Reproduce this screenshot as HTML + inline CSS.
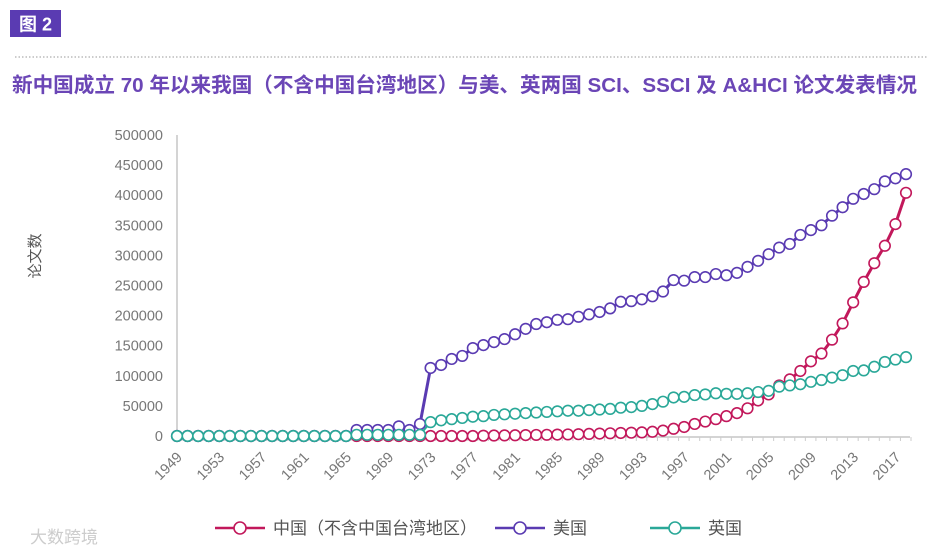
<!DOCTYPE html>
<html><head><meta charset="utf-8"><style>
body{margin:0;background:#fff;width:947px;height:554px;overflow:hidden;font-family:"Liberation Sans","Noto Sans CJK SC",sans-serif}
svg{display:block}
</style></head><body>
<svg id="chart" width="947" height="554" xmlns="http://www.w3.org/2000/svg">
<rect x="10" y="10" width="51" height="27" fill="#5a3bb2"/>
<text x="35.5" y="30.5" text-anchor="middle" fill="#fff" font-size="18" font-weight="bold" font-family="Liberation Sans,Noto Sans CJK SC,sans-serif">图 2</text>
<line x1="15" y1="57" x2="927" y2="57" stroke="#999" stroke-width="1" stroke-dasharray="1.5,2"/>
<text x="12" y="92" fill="#6b46b6" font-size="20.6" font-weight="bold" font-family="Liberation Sans,Noto Sans CJK SC,sans-serif">新中国成立 70 年以来我国（不含中国台湾地区）与美、英两国 SCI、SSCI 及 A&amp;HCI 论文发表情况</text>
<text transform="translate(40,256) rotate(-90)" text-anchor="middle" fill="#555" font-size="15" font-family="Liberation Sans,Noto Sans CJK SC,sans-serif">论文数</text>
<g id="axes"></g>
<g id="series"></g>
<g id="legend" font-family="Liberation Sans,Noto Sans CJK SC,sans-serif" font-size="17" fill="#555"></g>
<text x="30" y="543" fill="#ccc" font-size="17" font-family="Liberation Sans,Noto Sans CJK SC,sans-serif">大数跨境</text>
</svg>
<script>
const years = [];
for (let y = 1949; y <= 2018; y++) years.push(y);
const yTicks = [0,50000,100000,150000,200000,250000,300000,350000,400000,450000,500000];
const xTickYears = [1949,1953,1957,1961,1965,1969,1973,1977,1981,1985,1989,1993,1997,2001,2005,2009,2013,2017];
const z17 = new Array(17).fill(0);
// 1949-1965 zeros, then 1966..2018
const usa = z17.concat([10000,10000,10000,10000,16000,10000,20000,
 113000,118000,128000,133000,146000,151000,156000,161000,169000,178000,186000,189000,193000,194000,198000,202000,206000,212000,223000,224000,
 227000,232000,240000,259000,258000,264000,264000,269000,267000,271000,281000,291000,302000,313000,319000,334000,342000,350000,366000,380000,394000,402000,410000,423000,428000,435000]);
const uk = z17.concat([2000,2000,2000,2000,2000,2000,2000,
 23000,26000,28000,30000,32000,33000,35000,36000,37000,38000,39000,40000,41000,42000,42000,43000,44000,45000,47000,48000,
 50000,53000,57000,64000,65000,68000,69000,71000,70000,70000,71000,73000,75000,82000,84000,86000,90000,93000,97000,101000,108000,109000,115000,123000,127000,131000]);
const china = z17.concat([0,0,0,0,0,0,0,
 0,0,0,0,0,500,800,1000,1200,1500,1800,2000,2300,2600,3000,3500,4000,4500,5000,5500,
 6000,7000,9000,12000,15000,20000,24000,28000,33000,38000,46000,59000,69000,84000,94000,108000,124000,137000,160000,187000,222000,256000,287000,316000,352000,404000]);

const X0=177, X1=906, Y0=436, Y1=135;
const xs = y => X0 + (y-1949)*(X1-X0)/(2018-1949);
const ys = v => Y0 - v*(Y0-Y1)/500000;
const NS="http://www.w3.org/2000/svg";
function mk(tag, attrs, parent){const e=document.createElementNS(NS,tag);for(const k in attrs)e.setAttribute(k,attrs[k]);parent.appendChild(e);return e;}
const axes=document.getElementById('axes');
let ax=mk('line',{x1:X0,y1:Y1,x2:X0,y2:Y0+1,stroke:'#aaa','stroke-width':1},axes);


let bx=mk('line',{x1:X0,y1:Y0+1,x2:X1+4,y2:Y0+1,stroke:'#aaa','stroke-width':1},axes);


yTicks.forEach(v=>{
 const t=mk('text',{x:163,y:ys(v)+5,'text-anchor':'end','font-size':14.5,fill:'#777','font-family':'Liberation Sans,sans-serif'},axes);
 t.textContent=v;
 
 
});
years.forEach(y=>{
 const l=mk('line',{x1:xs(y)+5,y1:Y0+1,x2:xs(y)+5,y2:Y0+5,stroke:'#ccc','stroke-width':1},axes);
 
 
});
xTickYears.forEach(y=>{
 const x=xs(y)+6, yy=458;
 const t=mk('text',{x:x,y:yy,'text-anchor':'end','font-size':14.5,fill:'#777','font-family':'Liberation Sans,sans-serif',transform:`rotate(-45 ${x} ${yy})`},axes);
 t.textContent=y;
 
 
});
const ser=document.getElementById('series');
function draw(data,color,name,width){
 const g=mk('g',{},ser);
 
 
 const pts=data.map((v,i)=>xs(years[i])+','+ys(v)).join(' ');
 const pl=mk('polyline',{points:pts,fill:'none',stroke:color,'stroke-width':width},g);
 
 
 data.forEach((v,i)=>{
  const c=mk('circle',{cx:xs(years[i]),cy:ys(v),r:5.3,fill:'#fff',stroke:color,'stroke-width':1.6},g);
  
  
 });
}
draw(china,'#c2185b','china',3);
draw(usa,'#5a3bb2','usa',3);
draw(uk,'#2aa898','uk',2);
const lg=document.getElementById('legend');
const items=[['#c2185b','中国（不含中国台湾地区）',215,'legend-china'],['#5a3bb2','美国',495,'legend-usa'],['#2aa898','英国',650,'legend-uk']];
items.forEach(([c,label,x,n])=>{
 const g=mk('g',{},lg);
 
 
 mk('line',{x1:x,y1:528,x2:x+50,y2:528,stroke:c,'stroke-width':2.5},g);
 mk('circle',{cx:x+25,cy:528,r:6,fill:'#fff',stroke:c,'stroke-width':1.6},g);
 const t=mk('text',{x:x+58,y:534},g);
 t.textContent=label;
});
</script>
</body></html>
